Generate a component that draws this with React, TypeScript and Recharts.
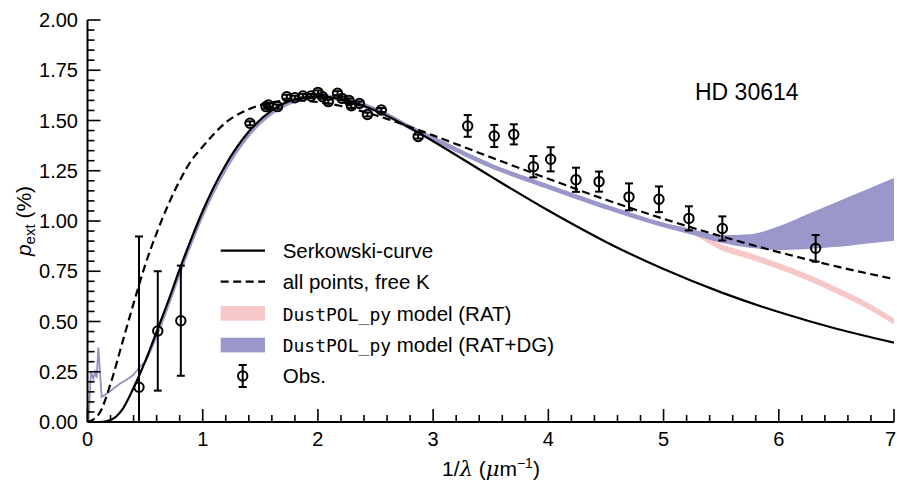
import {
  ComposedChart,
  Line,
  Area,
  Scatter,
  ErrorBar,
  XAxis,
  YAxis,
  Customized,
} from 'recharts'

const FONT = "'Liberation Sans', Arial, Helvetica, sans-serif"
const MONO = "'DejaVu Sans Mono', 'Liberation Mono', monospace"
const SERIF = "'DejaVu Serif', 'Liberation Serif', serif"

const PINK = '#f6c8c8'
const PURPLE = '#9a97ca'

// Serkowski fits, sampled in 1/lambda (um^-1)
const fitX = [0, 0.1, 0.2, 0.3, 0.4, 0.5, 0.6, 0.7, 0.8, 0.9, 1.0, 1.2, 1.4, 1.6, 1.8, 2.0, 2.2, 2.4, 2.6, 2.8, 3.0, 3.5, 4.0, 4.5, 5.0, 5.5, 6.0, 6.5, 7.0]
const serkowski = [0, 0, 0.01, 0.06, 0.17, 0.3, 0.45, 0.6, 0.76, 0.91, 1.05, 1.28, 1.445, 1.55, 1.605, 1.62, 1.607, 1.572, 1.523, 1.463, 1.397, 1.222, 1.052, 0.896, 0.761, 0.645, 0.547, 0.464, 0.395]
const freeK = [0, 0.04, 0.19, 0.39, 0.59, 0.78, 0.94, 1.08, 1.2, 1.3, 1.37, 1.49, 1.556, 1.59, 1.6, 1.592, 1.572, 1.543, 1.508, 1.468, 1.426, 1.317, 1.21, 1.106, 1.011, 0.924, 0.845, 0.774, 0.711]

// DustPOL_py (RAT+DG) at long wavelengths, where both models coincide
const farIrX = [0, 0.01, 0.03, 0.05, 0.065, 0.08, 0.094, 0.123, 0.166, 0.224, 0.28, 0.34, 0.4, 0.447, 0.5]
const farIrModel = [0, 0.02, 0.25, 0.215, 0.25, 0.22, 0.37, 0.125, 0.14, 0.165, 0.19, 0.21, 0.235, 0.27, 0.3]

// DustPOL_py model envelopes
const modelX = [0.5, 0.6, 0.7, 0.8, 0.9, 1.0, 1.2, 1.4, 1.6, 1.8, 2.0, 2.2, 2.4, 2.6, 2.8, 3.0, 3.5, 4.0, 4.5, 5.0, 5.25, 5.5, 5.75, 6.0, 6.25, 6.5, 6.75, 7.0]
const dgLow = [0.294, 0.422, 0.572, 0.732, 0.882, 1.022, 1.252, 1.422, 1.532, 1.592, 1.612, 1.599, 1.567, 1.519, 1.457, 1.402, 1.267, 1.162, 1.062, 0.972, 0.935, 0.895, 0.87, 0.86, 0.865, 0.875, 0.89, 0.905]
const dgHigh = [0.306, 0.438, 0.588, 0.748, 0.898, 1.038, 1.268, 1.438, 1.548, 1.608, 1.628, 1.615, 1.583, 1.535, 1.473, 1.418, 1.283, 1.178, 1.078, 0.988, 0.955, 0.925, 0.93, 0.97, 1.03, 1.09, 1.15, 1.21]
const ratLow = [0.294, 0.422, 0.572, 0.732, 0.882, 1.022, 1.252, 1.422, 1.532, 1.592, 1.612, 1.599, 1.567, 1.519, 1.457, 1.402, 1.267, 1.162, 1.062, 0.972, 0.935, 0.857, 0.812, 0.762, 0.707, 0.642, 0.572, 0.487]
const ratHigh = [0.306, 0.438, 0.588, 0.748, 0.898, 1.038, 1.268, 1.438, 1.548, 1.608, 1.628, 1.615, 1.583, 1.535, 1.473, 1.418, 1.283, 1.178, 1.078, 0.988, 0.955, 0.883, 0.838, 0.788, 0.733, 0.668, 0.598, 0.513]

// observations
const obsX = [0.447, 0.61, 0.81, 1.41, 1.55, 1.57, 1.65, 1.73, 1.8, 1.87, 1.94, 2.0, 2.04, 2.09, 2.17, 2.21, 2.27, 2.29, 2.36, 2.43, 2.55, 2.87, 3.3, 3.53, 3.7, 3.87, 4.02, 4.24, 4.44, 4.7, 4.96, 5.22, 5.51, 6.32]
const obsY = [0.173, 0.453, 0.504, 1.486, 1.569, 1.577, 1.569, 1.618, 1.613, 1.622, 1.622, 1.64, 1.618, 1.594, 1.636, 1.61, 1.6, 1.573, 1.585, 1.53, 1.552, 1.42, 1.473, 1.423, 1.431, 1.27, 1.307, 1.205, 1.196, 1.12, 1.108, 1.013, 0.963, 0.864]
const obsErr = [0.75, 0.297, 0.274, 0.01, 0.01, 0.01, 0.01, 0.01, 0.01, 0.01, 0.01, 0.01, 0.01, 0.01, 0.01, 0.01, 0.01, 0.01, 0.01, 0.01, 0.01, 0.01, 0.054, 0.055, 0.05, 0.053, 0.06, 0.06, 0.05, 0.067, 0.064, 0.06, 0.06, 0.066]

const xMajor = [0, 1, 2, 3, 4, 5, 6, 7]
const yMajor = [0, 0.25, 0.5, 0.75, 1, 1.25, 1.5, 1.75, 2]
const xTicks = Array.from({ length: 36 }, (_, i) => +(i * 0.2).toFixed(2))
const yTicks = Array.from({ length: 41 }, (_, i) => +(i * 0.05).toFixed(2))

const fitData = fitX.map((x, i) => ({ x, serk: serkowski[i], freeK: freeK[i] }))
const farIrData = farIrX.map((x, i) => ({ x, model: farIrModel[i] }))
const modelData = modelX.map((x, i) => ({
  x,
  rat: [ratLow[i], ratHigh[i]],
  dg: [dgLow[i], dgHigh[i]],
}))
// lower half of a bar stops at the x axis
const obsData = obsX.map((x, i) => ({
  x,
  y: obsY[i],
  bar: [Math.min(obsErr[i], obsY[i]), obsErr[i]],
}))

const isMajorX = (v: number) => xMajor.some((m) => Math.abs(m - v) < 1e-6)
const isMajorY = (v: number) => yMajor.some((m) => Math.abs(m - v) < 1e-6)

const MAJOR = 13
const MINOR = 7
const TICK_W = 1.6

function BottomTick({ x, y, payload }: any) {
  const major = isMajorX(payload.value)
  const last = payload.value === 7
  return (
    <g>
      <line x1={x} y1={y} x2={x} y2={y - (major ? MAJOR : MINOR)} stroke="#000" strokeWidth={TICK_W} />
      {major && (
        <text
          x={last ? x + 2 : x}
          y={y + 24}
          textAnchor={last ? 'end' : 'middle'}
          fontSize={20}
          fontFamily={FONT}
          fill="#000"
        >
          {payload.value}
        </text>
      )}
    </g>
  )
}

function TopTick({ x, y, payload }: any) {
  const major = isMajorX(payload.value)
  return <line x1={x} y1={y} x2={x} y2={y + (major ? MAJOR : MINOR)} stroke="#000" strokeWidth={TICK_W} />
}

function LeftTick({ x, y, payload }: any) {
  const major = isMajorY(payload.value)
  return (
    <g>
      <line x1={x} y1={y} x2={x + (major ? MAJOR : MINOR)} y2={y} stroke="#000" strokeWidth={TICK_W} />
      {major && (
        <text x={x - 9.5} y={y + 7} textAnchor="end" fontSize={20} fontFamily={FONT} fill="#000">
          {payload.value.toFixed(2)}
        </text>
      )}
    </g>
  )
}

function RightTick({ x, y, payload }: any) {
  const major = isMajorY(payload.value)
  return <line x1={x} y1={y} x2={x - (major ? MAJOR : MINOR)} y2={y} stroke="#000" strokeWidth={TICK_W} />
}

function ObsMarker({ cx, cy }: any) {
  return <circle cx={cx} cy={cy} r={4.7} fill="none" stroke="#000" strokeWidth={2} />
}

// axis titles, star name and the legend box
function Annotations() {
  const rows = [250.7, 281.7, 313.3, 345, 376]
  const tx = 282.7
  return (
    <g fontFamily={FONT} fill="#000">
      <text x={695} y={100} fontSize={23}>HD 30614</text>

      <text x={491} y={476} textAnchor="middle" fontSize={21}>
        1/<tspan fontFamily={SERIF} fontStyle="italic">λ</tspan> (<tspan fontFamily={SERIF} fontStyle="italic">μ</tspan>m
        <tspan fontSize={14} dy={-8}>−1</tspan>
        <tspan dy={8}>)</tspan>
      </text>

      <text x={31} y={221} transform="rotate(-90 31 221)" textAnchor="middle" fontSize={21}>
        <tspan fontStyle="italic">p</tspan>
        <tspan fontSize={15} dy={4}>ext</tspan>
        <tspan dy={-4}> (%)</tspan>
      </text>

      <line x1={220.7} x2={265} y1={rows[0]} y2={rows[0]} stroke="#000" strokeWidth={2.2} />
      <text x={tx} y={rows[0] + 7.3} fontSize={20.5}>Serkowski-curve</text>

      <line x1={220.7} x2={265} y1={rows[1]} y2={rows[1]} stroke="#000" strokeWidth={2.2} strokeDasharray="8 4.5" />
      <text x={tx} y={rows[1] + 7.3} fontSize={20.5}>all points, free K</text>

      <rect x={220.7} y={rows[2] - 7.3} width={44.3} height={14.7} fill={PINK} />
      <text x={tx} y={rows[2] + 7.3} fontSize={20.5}>
        <tspan fontFamily={MONO} fontSize={18}>DustPOL_py</tspan> model (RAT)
      </text>

      <rect x={220.7} y={rows[3] - 7.3} width={44.3} height={14.7} fill={PURPLE} />
      <text x={tx} y={rows[3] + 7.3} fontSize={20.5}>
        <tspan fontFamily={MONO} fontSize={18}>DustPOL_py</tspan> model (RAT+DG)
      </text>

      <line x1={242.7} x2={242.7} y1={rows[4] - 11} y2={rows[4] + 11} stroke="#000" strokeWidth={2} />
      <line x1={238.7} x2={246.7} y1={rows[4] - 11} y2={rows[4] - 11} stroke="#000" strokeWidth={2} />
      <line x1={238.7} x2={246.7} y1={rows[4] + 11} y2={rows[4] + 11} stroke="#000" strokeWidth={2} />
      <circle cx={242.7} cy={rows[4]} r={4.7} fill="none" stroke="#000" strokeWidth={2} />
      <text x={tx} y={rows[4] + 7.3} fontSize={20.5}>Obs.</text>
    </g>
  )
}

export default function App() {
  const frame = { stroke: '#000', strokeWidth: 2 }
  return (
    <div style={{ position: 'absolute', left: 0, top: 0, width: 897, height: 481, background: '#fff' }}>
      <ComposedChart width={897} height={481} data={modelData} margin={{ top: 20, right: 3, bottom: 0, left: 0 }}>
        <XAxis
          xAxisId="b"
          dataKey="x"
          type="number"
          domain={[0, 7]}
          ticks={xTicks}
          interval={0}
          allowDataOverflow
          orientation="bottom"
          height={59}
          tickSize={0}
          tickMargin={0}
          tickLine={false}
          axisLine={frame}
          tick={(p: any) => <BottomTick {...p} />}
        />
        <XAxis
          xAxisId="t"
          dataKey="x"
          type="number"
          domain={[0, 7]}
          ticks={xTicks}
          interval={0}
          allowDataOverflow
          orientation="top"
          height={0}
          tickSize={0}
          tickMargin={0}
          tickLine={false}
          axisLine={frame}
          tick={(p: any) => <TopTick {...p} />}
        />
        <YAxis
          yAxisId="l"
          type="number"
          domain={[0, 2]}
          ticks={yTicks}
          interval={0}
          allowDataOverflow
          width={87.5}
          tickSize={0}
          tickMargin={0}
          tickLine={false}
          axisLine={frame}
          tick={(p: any) => <LeftTick {...p} />}
        />
        <YAxis
          yAxisId="r"
          type="number"
          orientation="right"
          domain={[0, 2]}
          ticks={yTicks}
          interval={0}
          allowDataOverflow
          width={0}
          tickSize={0}
          tickMargin={0}
          tickLine={false}
          axisLine={frame}
          tick={(p: any) => <RightTick {...p} />}
        />

        <Line
          xAxisId="b"
          yAxisId="l"
          data={farIrData}
          dataKey="model"
          type="linear"
          stroke="#9c8cc0"
          strokeWidth={1.8}
          dot={false}
          activeDot={false}
          isAnimationActive={false}
        />
        <Area
          xAxisId="b"
          yAxisId="l"
          dataKey="rat"
          type="monotone"
          fill={PINK}
          fillOpacity={1}
          stroke={PINK}
          strokeWidth={1}
          dot={false}
          activeDot={false}
          isAnimationActive={false}
        />
        <Area
          xAxisId="b"
          yAxisId="l"
          dataKey="dg"
          type="monotone"
          fill={PURPLE}
          fillOpacity={1}
          stroke={PURPLE}
          strokeWidth={1.5}
          dot={false}
          activeDot={false}
          isAnimationActive={false}
        />
        <Line
          xAxisId="b"
          yAxisId="l"
          data={fitData}
          dataKey="serk"
          type="monotone"
          stroke="#000"
          strokeWidth={2.2}
          dot={false}
          activeDot={false}
          isAnimationActive={false}
        />
        <Line
          xAxisId="b"
          yAxisId="l"
          data={fitData}
          dataKey="freeK"
          type="monotone"
          stroke="#000"
          strokeWidth={2.2}
          strokeDasharray="8 4.5"
          dot={false}
          activeDot={false}
          isAnimationActive={false}
        />
        <Scatter
          xAxisId="b"
          yAxisId="l"
          data={obsData}
          dataKey="y"
          shape={(p: any) => <ObsMarker {...p} />}
          isAnimationActive={false}
        >
          <ErrorBar dataKey="bar" direction="y" width={4} stroke="#000" strokeWidth={2} />
        </Scatter>

        <Customized component={Annotations} />
      </ComposedChart>
    </div>
  )
}
